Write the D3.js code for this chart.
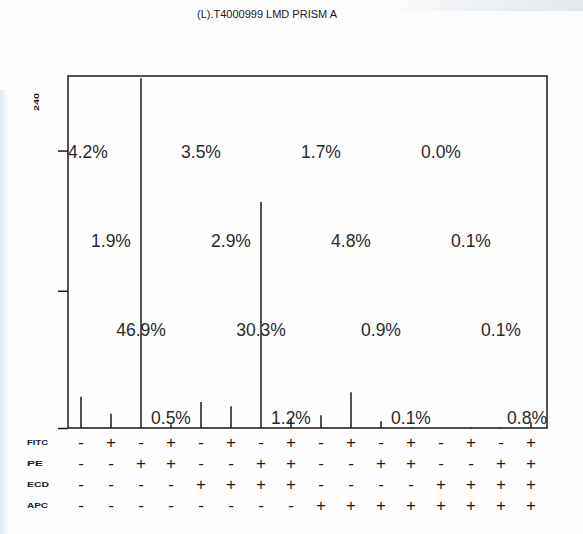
<!DOCTYPE html>
<html>
<head>
<meta charset="utf-8">
<script src="https://cdn.jsdelivr.net/npm/d3@7"></script>
<style>
  html, body { margin: 0; padding: 0; background: #fff; }
  svg { display: block; }
</style>
</head>
<body>
<svg id="chart" width="583" height="534"></svg>
<script>
// ---------- data ----------
const title = "(L).T4000999 LMD PRISM A";
const yAxisLabel = "240";
const percents = [4.2, 1.9, 46.9, 0.5, 3.5, 2.9, 30.3, 1.2, 1.7, 4.8, 0.9, 0.1, 0.0, 0.1, 0.1, 0.8];
const markers = ["FITC", "PE", "ECD", "APC"];
const fitcSigns = ["-", "+", "-", "+", "-", "+", "-", "+", "-", "+", "-", "+", "-", "+", "-", "+"];
const peSigns   = ["-", "-", "+", "+", "-", "-", "+", "+", "-", "-", "+", "+", "-", "-", "+", "+"];
const ecdSigns  = ["-", "-", "-", "-", "+", "+", "+", "+", "-", "-", "-", "-", "+", "+", "+", "+"];
const apcSigns  = ["-", "-", "-", "-", "-", "-", "-", "-", "+", "+", "+", "+", "+", "+", "+", "+"];
const yTicks = [0, 18.4, 37.2];
const yMax = 47.2;

// ---------- layout ----------
const svg = d3.select("#chart");
const frame = { left: 68, right: 547, top: 76, bottom: 428 };
const FONT = "'Liberation Sans', Arial, sans-serif";
const ink = "#1a1a1a";

// subtle background shading like the reference
const defs = svg.append("defs");
const g1 = defs.append("linearGradient").attr("id", "tr").attr("x1", 0).attr("x2", 1).attr("y1", 0).attr("y2", 0);
g1.append("stop").attr("offset", "0").attr("stop-color", "#ffffff");
g1.append("stop").attr("offset", "0.5").attr("stop-color", "#eef1f4");
g1.append("stop").attr("offset", "1").attr("stop-color", "#e2e8ee");
const g2 = defs.append("linearGradient").attr("id", "lf").attr("x1", 0).attr("x2", 1).attr("y1", 0).attr("y2", 0);
g2.append("stop").attr("offset", "0").attr("stop-color", "#dfe8f2");
g2.append("stop").attr("offset", "1").attr("stop-color", "#ffffff");
svg.append("rect").attr("x", 0).attr("y", 0).attr("width", 583).attr("height", 534).attr("fill", "#fdfdfd");
svg.append("rect").attr("x", 370).attr("y", 0).attr("width", 213).attr("height", 11).attr("fill", "url(#tr)");
svg.append("rect").attr("x", 0).attr("y", 90).attr("width", 10).attr("height", 444).attr("fill", "url(#lf)");

const idx = d3.range(percents.length);
const x = d3.scaleBand().domain(idx).range([66, 546]);
const cx = i => x(i) + x.bandwidth() / 2;
const y = d3.scaleLinear().domain([0, yMax]).range([frame.bottom, frame.top]);

// title
svg.append("text")
  .attr("x", 267).attr("y", 14)
  .attr("text-anchor", "middle").attr("dominant-baseline", "central")
  .attr("font-family", FONT).attr("font-size", 10)
  .attr("textLength", 140).attr("lengthAdjust", "spacingAndGlyphs")
  .attr("fill", ink)
  .text(title);

// y-axis label
svg.append("text")
  .attr("transform", "translate(36,102) rotate(-90)")
  .attr("text-anchor", "middle").attr("dominant-baseline", "central")
  .attr("font-family", FONT).attr("font-size", 8).attr("font-weight", "bold")
  .attr("textLength", 18).attr("lengthAdjust", "spacingAndGlyphs")
  .attr("fill", ink)
  .text(yAxisLabel);

// y axis ticks
const yAxis = d3.axisLeft(y).tickValues(yTicks).tickSize(10).tickFormat("");
const ya = svg.append("g").attr("transform", `translate(${frame.left},0)`).call(yAxis);
ya.select(".domain").remove();
ya.selectAll(".tick line").attr("stroke", ink).attr("stroke-width", 1.5);

// percent labels (grid: row = index within group of 4)
const rowY = [152, 241, 330, 418];
const labels = svg.append("g").selectAll("text").data(idx).join("text")
  .attr("y", i => rowY[i % 4])
  .attr("text-anchor", "start").attr("dominant-baseline", "central")
  .attr("font-family", FONT).attr("font-size", 17.5)
  .attr("fill", "#2a2a2a")
  .text(i => percents[i].toFixed(1) + "%");
labels.each(function(i) {
  const w = this.getComputedTextLength();
  let left = cx(i) - w / 2;
  left = Math.max(frame.left, Math.min(frame.right - w, left));
  d3.select(this).attr("x", left);
});

// bars (spikes)
svg.append("g").selectAll("line").data(idx).join("line")
  .attr("x1", i => cx(i)).attr("x2", i => cx(i))
  .attr("y1", y(0)).attr("y2", i => y(percents[i]))
  .attr("stroke", ink).attr("stroke-width", 1.5);

// frame
svg.append("rect")
  .attr("x", frame.left).attr("y", frame.top)
  .attr("width", frame.right - frame.left).attr("height", frame.bottom - frame.top)
  .attr("fill", "none").attr("stroke", ink).attr("stroke-width", 1.5);

// combination table
const signRows = [fitcSigns, peSigns, ecdSigns, apcSigns];
const tableY = [442, 463, 484, 505];
const labelW = [21, 16, 22, 21];
markers.forEach((m, r) => {
  svg.append("text")
    .attr("x", 27).attr("y", tableY[r])
    .attr("dominant-baseline", "central")
    .attr("font-family", FONT).attr("font-size", 7.5).attr("font-weight", "bold")
    .attr("textLength", labelW[r]).attr("lengthAdjust", "spacingAndGlyphs")
    .attr("fill", ink)
    .text(m);
  svg.append("g").selectAll("text").data(idx).join("text")
    .attr("x", i => cx(i)).attr("y", tableY[r])
    .attr("text-anchor", "middle").attr("dominant-baseline", "central")
    .attr("font-family", FONT).attr("font-size", 17)
    .attr("fill", ink)
    .text(i => signRows[r][i]);
});
</script>
</body>
</html>
